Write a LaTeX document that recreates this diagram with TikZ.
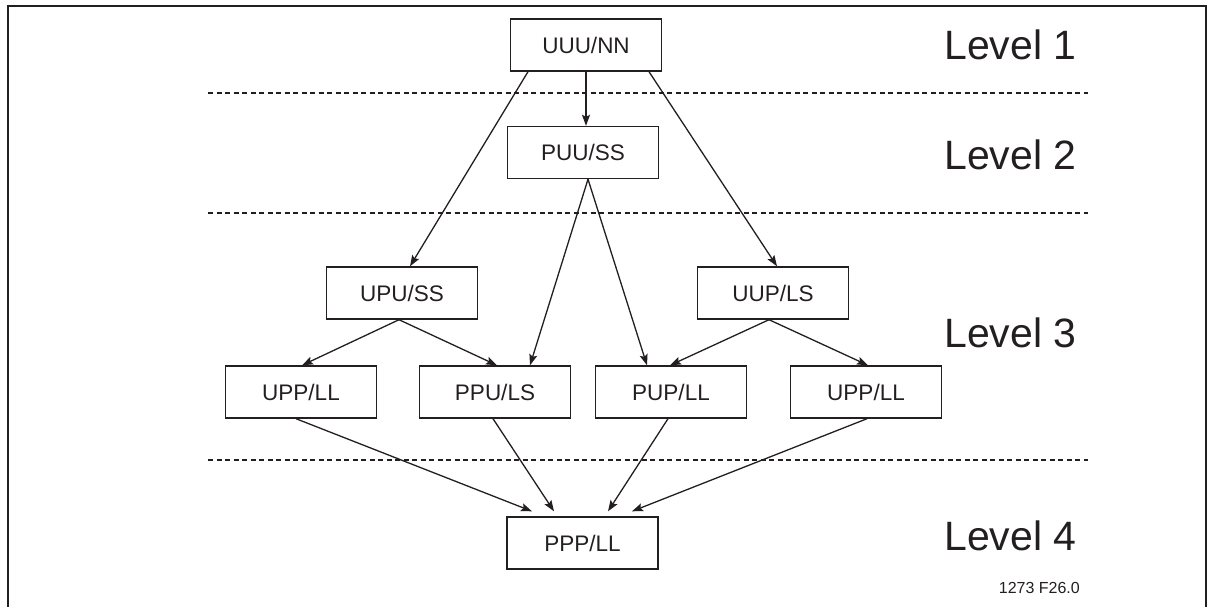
\documentclass[tikz,border=0pt]{standalone}
\usepackage{fontspec}
\setmainfont{Liberation Sans}
\usetikzlibrary{arrows.meta}
\definecolor{ink}{HTML}{231F20}
\begin{document}
\begin{tikzpicture}[x=1pt,y=-1pt,
  box/.style={draw=ink,line width=1.4pt,minimum width=151pt,minimum height=52pt,inner sep=0pt,
    text=ink,font=\fontsize{22.5}{26}\selectfont},
  arr/.style={draw=ink,line width=1.3pt,-{Stealth[length=11pt,width=8pt,inset=2pt]}},
  sep/.style={draw=ink,line width=1.1pt,dash pattern=on 5pt off 3.5pt},
  lvl/.style={anchor=base west,inner sep=0pt,text=ink,font=\fontsize{41}{46}\selectfont},
  tag/.style={anchor=base east,inner sep=0pt,text=ink,font=\fontsize{16}{18}\selectfont}]
\useasboundingbox (0,0) rectangle (1212,606);
\clip (0,0) rectangle (1212,606);
% frame
\draw[ink,line width=2.6pt] (8,615) -- (8,6) -- (1206,6) -- (1206,615);
% separators
\coordinate (s1a) at (208,93);  \coordinate (s1b) at (1088,93);
\coordinate (s2a) at (208,213); \coordinate (s2b) at (1088,213);
\coordinate (s3a) at (208,460); \coordinate (s3b) at (1088,460);
\draw[sep] (s1a) -- (s1b);
\draw[sep] (s2a) -- (s2b);
\draw[sep] (s3a) -- (s3b);
% nodes
\node[box] (uuu) at (586,45) {UUU/NN};
\node[box] (puu) at (583,152.5) {PUU/SS};
\node[box] (upu) at (402,293) {UPU/SS};
\node[box] (uup) at (773,293) {UUP/LS};
\node[box] (upp1) at (301,392) {UPP/LL};
\node[box] (ppu) at (495,392) {PPU/LS};
\node[box] (pup) at (671,392) {PUP/LL};
\node[box] (upp2) at (866,392) {UPP/LL};
\node[box] (ppp) at (582.5,543) {PPP/LL};
% level labels
\node[lvl] (l1) at (944,59) {Level 1};
\node[lvl] (l2) at (944,169) {Level 2};
\node[lvl] (l3) at (944,347) {Level 3};
\node[lvl] (l4) at (944,550) {Level 4};
\node[tag] (fig) at (1080,593) {1273 F26.0};
% connectors
\draw[arr] (uuu.south -| 586,0) -- (puu.north -| 586,0);
\draw[arr] (uuu.south -| 528,0) -- (upu.north -| 410,0);
\draw[arr] (uuu.south -| 649,0) -- (uup.north -| 777,0);
\draw[arr] (puu.south -| 588,0) -- (ppu.north -| 530,0);
\draw[arr] (puu.south -| 588,0) -- (pup.north -| 647,0);
\draw[arr] (upu.south -| 399,0) -- (upp1.north -| 302,0);
\draw[arr] (upu.south -| 399,0) -- (ppu.north -| 497,0);
\draw[arr] (uup.south -| 769,0) -- (pup.north -| 670,0);
\draw[arr] (uup.south -| 769,0) -- (upp2.north -| 868,0);
\draw[arr] (upp1.south -| 296,0) -- ([yshift=5pt]ppp.north -| 532,0);
\draw[arr] (ppu.south -| 493,0) -- ([yshift=5pt]ppp.north -| 554,0);
\draw[arr] (pup.south -| 668,0) -- ([yshift=5pt]ppp.north -| 608,0);
\draw[arr] (upp2.south -| 867,0) -- ([yshift=5pt]ppp.north -| 632,0);
\end{tikzpicture}
\end{document}
